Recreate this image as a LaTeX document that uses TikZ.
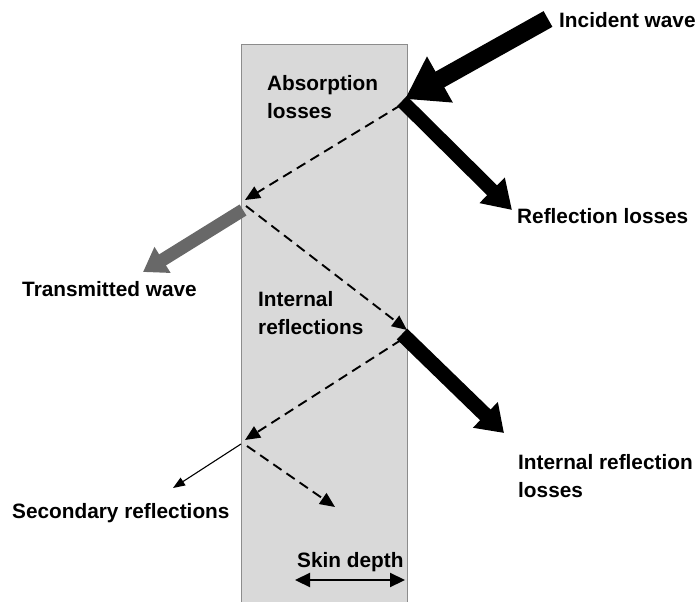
\documentclass[tikz,border=0pt]{standalone}
\usepackage{fontspec}
\setmainfont{Liberation Sans}
\usetikzlibrary{arrows.meta}
\definecolor{slabfill}{HTML}{D9D9D9}
\definecolor{slabdraw}{HTML}{8C8C8C}
\definecolor{transgray}{HTML}{686868}
\begin{document}
\begin{tikzpicture}[x=1pt,y=-1pt,
  lbl/.style={font=\fontsize{20.8}{28}\selectfont\bfseries, inner sep=0pt, text=black},
  lblb/.style={lbl, anchor=base west},
  lblm/.style={lbl, anchor=north west, align=left},
  dashray/.style={draw=black, line width=1.9pt, dash pattern=on 10pt off 6pt, -{Triangle[length=15pt,width=13pt]}},
]
\useasboundingbox (0,0) rectangle (697,602);
\node[draw=slabdraw, fill=slabfill, line width=1.4pt, minimum width=166pt, minimum height=570pt, anchor=north west, inner sep=0pt] (slab) at (241,44) {};

% points
\coordinate (incS) at (548,19);
\coordinate (P1) at (405,99);
\coordinate (refS) at (402,101);
\coordinate (refE) at (512,210);
\coordinate (d1S) at (401,105);
\coordinate (P2) at (245,200);
\coordinate (trS) at (243,210);
\coordinate (trE) at (143,272);
\coordinate (d2S) at (246,206);
\coordinate (P3) at (407,330);
\coordinate (irS) at (402,334);
\coordinate (irE) at (504,433);
\coordinate (d3S) at (401,340);
\coordinate (P4) at (245,440);
\coordinate (thS) at (241,444);
\coordinate (thE) at (173,488);
\coordinate (d4S) at (247,446);
\coordinate (d4E) at (335,507);
\coordinate (skL) at (295,580);
\coordinate (skR) at (405,580);

% dashed internal rays
\draw[dashray] (d1S) -- (P2);
\draw[dashray] (d2S) -- (P3);
\draw[dashray] (d3S) -- (P4);
\draw[dashray] (d4S) -- (d4E);

% thick arrows
\draw[line width=18pt, -{Triangle[length=40pt,width=50pt]}] (incS) -- (P1);
\draw[line width=14pt, -{Triangle[length=28pt,width=34pt]}] (refS) -- (refE);
\draw[line width=13pt, draw=transgray, -{Triangle[length=23pt,width=29pt]}] (trS) -- (trE);
\draw[line width=15pt, -{Triangle[length=26pt,width=34pt]}] (irS) -- (irE);
\draw[line width=1.1pt, -{Triangle[length=12pt,width=9pt]}] (thS) -- (thE);
\draw[line width=2.2pt, {Triangle[length=15pt,width=14pt]}-{Triangle[length=15pt,width=14pt]}] (skL) -- (skR);

% labels
\node[lblb] (tInc) at (559,28) {Incident wave};
\node[lblm] (tAbs) at (267,75) {Absorption\\losses};
\node[lblb] (tRef) at (517,223) {Reflection losses};
\node[lblb] (tTr) at (22,296) {Transmitted wave};
\node[lblm] (tIntR) at (258,291) {Internal\\reflections};
\node[lblm] (tIRL) at (518,454) {Internal reflection\\losses};
\node[lblb] (tSec) at (12,518) {Secondary reflections};
\node[lblb] (tSkin) at (297,567) {Skin depth};
\end{tikzpicture}
\end{document}
